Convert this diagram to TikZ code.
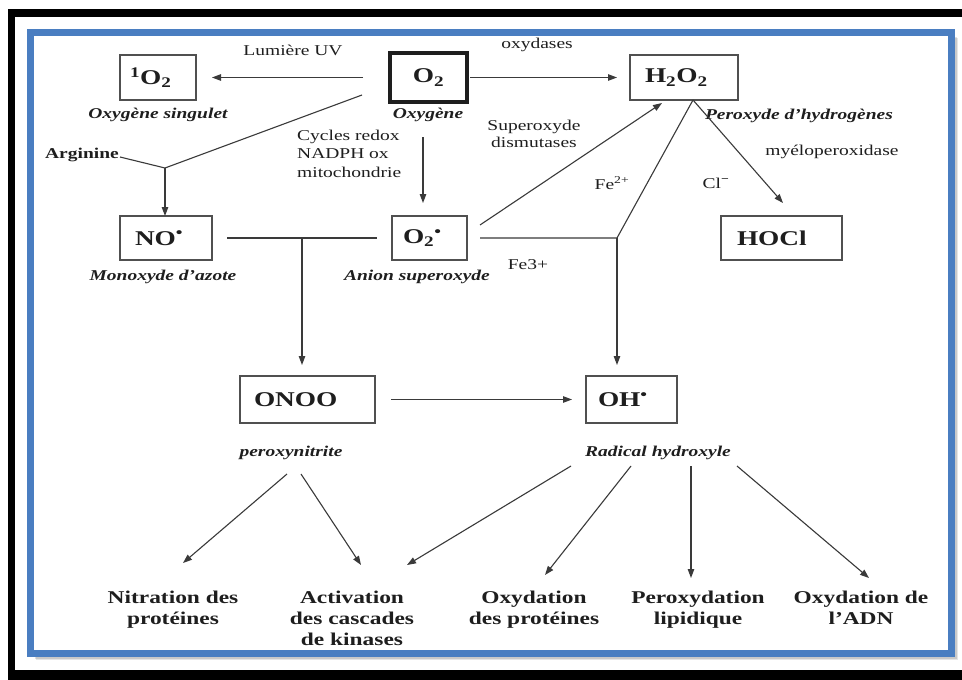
\documentclass[tikz,border=0pt]{standalone}
\usepackage{fontspec}
\setmainfont{Liberation Serif}[FakeStretch=1.3]
\usetikzlibrary{arrows.meta}
\definecolor{frameblue}{HTML}{4A7EC1}
\definecolor{ink}{HTML}{1E1E1E}
\definecolor{linegray}{HTML}{3A3A3A}
\definecolor{boxgray}{HTML}{505050}
\tikzset{
  box/.style={draw=boxgray, line width=1.4pt, inner ysep=0pt, outer sep=0pt, anchor=north west,
    text=ink, align=left, font=\bfseries\fontsize{21}{24}\selectfont},
  ital/.style={text=ink, inner sep=0pt, font=\bfseries\itshape\fontsize{15}{18}\selectfont},
  plain/.style={text=ink, inner sep=0pt, font=\fontsize{15}{17}\selectfont},
  bottomlab/.style={text=ink, inner sep=0pt, anchor=north, align=center,
    font=\bfseries\fontsize{18}{21}\selectfont},
  ln/.style={draw=linegray, line width=1.1pt},
  arr/.style={ln, -{Triangle[length=9pt,width=6.5pt]}},
}
\begin{document}
\begin{tikzpicture}[x=1pt,y=-1pt]
\useasboundingbox (0,0) rectangle (962,680);
% outer black frame
\fill[black] (8,9) rectangle (962,680);
\fill[white] (15,17) rectangle (962,670);
% shadow of blue frame
\foreach \i/\o in {6/0.10,4.5/0.12,3/0.14,1.5/0.16}{
  \fill[black, opacity=\o] (30+\i,32+\i) rectangle (952+\i,654+\i);
}
\fill[white] (33.75,35.75) rectangle (948.25,650.25);
\draw[frameblue, line width=6.5pt] (30.5,32.5) rectangle (951.5,653.5);

% boxes
\node[box, inner xsep=10pt, text width=56pt, minimum height=45pt] (s) at (120,55) {\textsuperscript{1}O\textsubscript{2}};
\node[box, draw=ink, line width=4pt, inner xsep=8pt, text width=61pt, align=center, minimum height=49pt] (o2) at (390,53) {O\textsubscript{2}};
\node[box, inner xsep=15pt, text width=78pt, minimum height=45pt] (h2o2) at (630,55) {H\textsubscript{2}O\textsubscript{2}};
\node[box, inner xsep=15pt, text width=62pt, minimum height=44pt] (no) at (120,216) {NO\textsuperscript{•}};
\node[box, inner xsep=11pt, text width=53pt, minimum height=44pt] (o2r) at (392,216) {O\textsubscript{2}\textsuperscript{•}};
\node[box, inner xsep=16pt, text width=89pt, minimum height=44pt] (hocl) at (721,216) {HOCl};
\node[box, inner xsep=14pt, text width=107pt, minimum height=47pt] (onoo) at (240,376) {ONOO};
\node[box, inner xsep=12pt, text width=67pt, minimum height=47pt] (oh) at (586,376) {OH\textsuperscript{•}};

% labels
\node[plain] (uv) at (293,50) {Lumière UV};
\node[plain] (oxy) at (537,45) {oxydases};
\node[ital] (ls) at (158,115) {Oxygène singulet};
\node[ital] (lo) at (428,115) {Oxygène};
\node[ital] (lh) at (799,116) {Peroxyde d'hydrogènes};
\node[plain, align=center, font=\fontsize{15}{17}\selectfont] (sod) at (534,134) {Superoxyde\\dismutases};
\node[plain] (myelo) at (832,152) {myéloperoxidase};
\node[plain] (fe2) at (612,183) {Fe\textsuperscript{2+}};
\node[plain] (cl) at (716,183) {Cl\textsuperscript{\textbf{−}}};
\node[text=ink, inner sep=0pt, font=\bfseries\fontsize{15}{18}\selectfont] (arg) at (82,155) {Arginine};
\node[plain, align=left, anchor=north west, font=\fontsize{15}{18.3}\selectfont] (cyc) at (297,130) {Cycles redox\\NADPH ox\\mitochondrie};
\node[ital] (lno) at (163,277) {Monoxyde d'azote};
\node[ital] (lo2r) at (417,277) {Anion superoxyde};
\node[plain] (fe3) at (528,265) {Fe3+};
\node[ital] (lonoo) at (291,453) {peroxynitrite};
\node[ital] (loh) at (658,453) {Radical hydroxyle};

\node[bottomlab] (b1) at (173,591) {Nitration des\\protéines};
\node[bottomlab] (b2) at (352,591) {Activation\\des cascades\\de kinases};
\node[bottomlab] (b3) at (534,591) {Oxydation\\des protéines};
\node[bottomlab] (b4) at (698,591) {Peroxydation\\lipidique};
\node[bottomlab] (b5) at (861,591) {Oxydation de\\l'ADN};

% coordinates
\coordinate (a1) at (120,157);
\coordinate (ja) at (165,168);
\coordinate (o2sw) at (362,95);
\coordinate (c1) at (423,137);
\coordinate (c2) at (423,203);
\coordinate (nol) at (227,238);
\coordinate (jb) at (302,238);
\coordinate (o2rl) at (377,238);
\coordinate (o2rr) at (480,238);
\coordinate (jc) at (617,238);
\coordinate (hb) at (693,100);
\coordinate (sod1) at (480,225);
\coordinate (sod2) at (662,103);
\coordinate (hoclt) at (783,203);
\coordinate (onooin) at (302,365);
\coordinate (ohin) at (617,365);
\coordinate (p1) at (287,474);
\coordinate (p2) at (301,474);
\coordinate (r1) at (571,466);
\coordinate (r2) at (631,466);
\coordinate (r3) at (691,466);
\coordinate (r4) at (737,466);
\coordinate (e1) at (183,563);
\coordinate (e2) at (361,565);
\coordinate (e3) at (407,565);
\coordinate (e4) at (545,575);
\coordinate (e5) at (691,578);
\coordinate (e6) at (869,578);

% connectors
\draw[arr, shorten <=27pt, shorten >=16pt] (o2.west) -- (s.east);
\draw[arr, shorten <=3pt, shorten >=13pt] (o2.east) -- (h2o2.west);
\draw[ln] (a1) -- (ja) -- (o2sw);
\draw[arr] (ja) -- (ja |- no.north);
\draw[arr] (c1) -- (c2);
\draw[ln] (nol) -- (o2rl);
\draw[arr] (jb) -- (onooin);
\draw[ln] (o2rr) -- (jc) -- (hb);
\draw[arr] (jc) -- (ohin);
\draw[arr] (sod1) -- (sod2);
\draw[arr] (hb) -- (hoclt);
\draw[arr, shorten <=16pt, shorten >=14pt] (onoo.east) -- (oh.west);
\draw[arr] (p1) -- (e1);
\draw[arr] (p2) -- (e2);
\draw[arr] (r1) -- (e3);
\draw[arr] (r2) -- (e4);
\draw[arr] (r3) -- (e5);
\draw[arr] (r4) -- (e6);
\end{tikzpicture}
\end{document}
